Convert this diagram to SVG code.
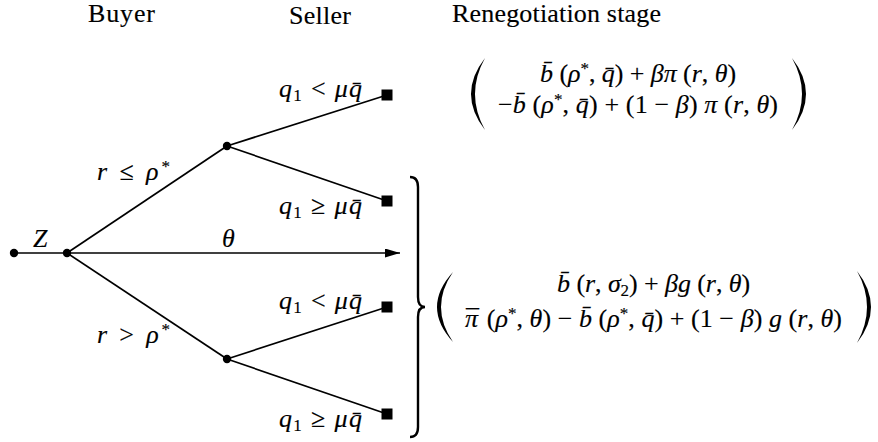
<svg xmlns="http://www.w3.org/2000/svg" width="878" height="442" viewBox="0 0 878 442">
<style>
.t{font-family:"Liberation Serif","Times New Roman","DejaVu Serif",serif;font-size:26px;fill:#000;stroke:#000;stroke-width:0.15}
.i{font-style:italic}
.s{font-size:17px}
.e{stroke:#000;stroke-width:1.7;fill:none}
.d{fill:#000}
</style>
<defs>
<marker id="ah" markerUnits="userSpaceOnUse" markerWidth="15" markerHeight="9" refX="15" refY="4.5" orient="auto">
<path d="M0,0 L15,4.5 L0,9 Z" fill="#000"/>
</marker>
</defs>
<g id="headers">
<text class="t" x="88" y="22" textLength="67" lengthAdjust="spacing">Buyer</text>
<text class="t" x="289" y="24" textLength="62" lengthAdjust="spacing">Seller</text>
<text class="t" x="452" y="22" textLength="209" lengthAdjust="spacing">Renegotiation stage</text>
</g>
<g id="connectors">
<line class="e" x1="14" y1="253" x2="67" y2="253"/>
<line class="e" x1="67" y1="253" x2="400" y2="253" marker-end="url(#ah)"/>
<line class="e" x1="67" y1="253" x2="227" y2="146"/>
<line class="e" x1="67" y1="253" x2="227" y2="359"/>
<line class="e" x1="227" y1="146" x2="387" y2="95"/>
<line class="e" x1="227" y1="146" x2="387" y2="201"/>
<line class="e" x1="227" y1="359" x2="387" y2="307"/>
<line class="e" x1="227" y1="359" x2="387" y2="414"/>
</g>
<g id="edge-labels">
<text class="t i" x="33" y="247" textLength="16" lengthAdjust="spacing">Z</text>
<text class="t i" x="222" y="247" textLength="11" lengthAdjust="spacing">θ</text>
<text class="t" x="97" y="180" textLength="73" lengthAdjust="spacing"><tspan class="i">r</tspan> ≤ <tspan class="i">ρ</tspan><tspan class="s" dy="-8">*</tspan></text>
<text class="t" x="97" y="343" textLength="73" lengthAdjust="spacing"><tspan class="i">r</tspan> &gt; <tspan class="i">ρ</tspan><tspan class="s" dy="-8">*</tspan></text>
<text class="t" x="279" y="97" textLength="83" lengthAdjust="spacing"><tspan class="i">q</tspan><tspan class="s" dy="4">1</tspan><tspan dy="-4"> &lt; </tspan><tspan class="i">μq̄</tspan></text>
<text class="t" x="279" y="214" textLength="83" lengthAdjust="spacing"><tspan class="i">q</tspan><tspan class="s" dy="4">1</tspan><tspan dy="-4"> ≥ </tspan><tspan class="i">μq̄</tspan></text>
<text class="t" x="279" y="309" textLength="83" lengthAdjust="spacing"><tspan class="i">q</tspan><tspan class="s" dy="4">1</tspan><tspan dy="-4"> &lt; </tspan><tspan class="i">μq̄</tspan></text>
<text class="t" x="279" y="427" textLength="83" lengthAdjust="spacing"><tspan class="i">q</tspan><tspan class="s" dy="4">1</tspan><tspan dy="-4"> ≥ </tspan><tspan class="i">μq̄</tspan></text>
</g>
<g id="root"><circle class="d" cx="14" cy="253" r="4.2"/></g>
<g id="buyer"><circle class="d" cx="67" cy="253" r="4.2"/></g>
<g id="seller-high"><circle class="d" cx="227" cy="146" r="4.2"/></g>
<g id="seller-low"><circle class="d" cx="227" cy="359" r="4.2"/></g>
<g id="t1"><rect class="d" x="381.5" y="89.5" width="11" height="11"/></g>
<g id="t2"><rect class="d" x="381.5" y="195.5" width="11" height="11"/></g>
<g id="t3"><rect class="d" x="381.5" y="301.5" width="11" height="11"/></g>
<g id="t4"><rect class="d" x="381.5" y="408.5" width="11" height="11"/></g>
<g id="payoff-top">
<path class="d" d="M485,58 Q457,94 485,130 Q465,94 485,58 Z"/>
<path class="d" d="M792,58 Q820,94 792,130 Q812,94 792,58 Z"/>
<text class="t" x="540" y="82" textLength="196" lengthAdjust="spacing"><tspan class="i">b̄</tspan> (<tspan class="i">ρ</tspan><tspan class="s" dy="-8">*</tspan><tspan dy="8">, </tspan><tspan class="i">q̄</tspan>) + <tspan class="i">βπ</tspan> (<tspan class="i">r</tspan>, <tspan class="i">θ</tspan>)</text>
<text class="t" x="498" y="113" textLength="280" lengthAdjust="spacing">−<tspan class="i">b̄</tspan> (<tspan class="i">ρ</tspan><tspan class="s" dy="-8">*</tspan><tspan dy="8">, </tspan><tspan class="i">q̄</tspan>) + (1 − <tspan class="i">β</tspan>) <tspan class="i">π</tspan> (<tspan class="i">r</tspan>, <tspan class="i">θ</tspan>)</text>
</g>
<g id="brace">
<path class="e" style="stroke-width:2.4" d="M410,177 Q418,177 418,187 L418,297 Q418,307 425,307 Q418,307 418,317 L418,427 Q418,437 410,437"/>
</g>
<g id="payoff-bottom">
<path class="d" d="M453,272 Q421,307 453,342 Q429,307 453,272 Z"/>
<path class="d" d="M857,271 Q885,307 857,343 Q877,307 857,271 Z"/>
<text class="t" x="557" y="292" textLength="193" lengthAdjust="spacing"><tspan class="i">b̄</tspan> (<tspan class="i">r</tspan>, <tspan class="i">σ</tspan><tspan class="s" dy="4">2</tspan><tspan dy="-4">) + </tspan><tspan class="i">βg</tspan> (<tspan class="i">r</tspan>, <tspan class="i">θ</tspan>)</text>
<text class="t" x="465" y="327" textLength="377" lengthAdjust="spacing"><tspan class="i">π</tspan><tspan dx="-12">¯</tspan><tspan dx="1"> (</tspan><tspan class="i">ρ</tspan><tspan class="s" dy="-8">*</tspan><tspan dy="8">, </tspan><tspan class="i">θ</tspan>) − <tspan class="i">b̄</tspan> (<tspan class="i">ρ</tspan><tspan class="s" dy="-8">*</tspan><tspan dy="8">, </tspan><tspan class="i">q̄</tspan>) + (1 − <tspan class="i">β</tspan>) <tspan class="i">g</tspan> (<tspan class="i">r</tspan>, <tspan class="i">θ</tspan>)</text>
</g>
</svg>
